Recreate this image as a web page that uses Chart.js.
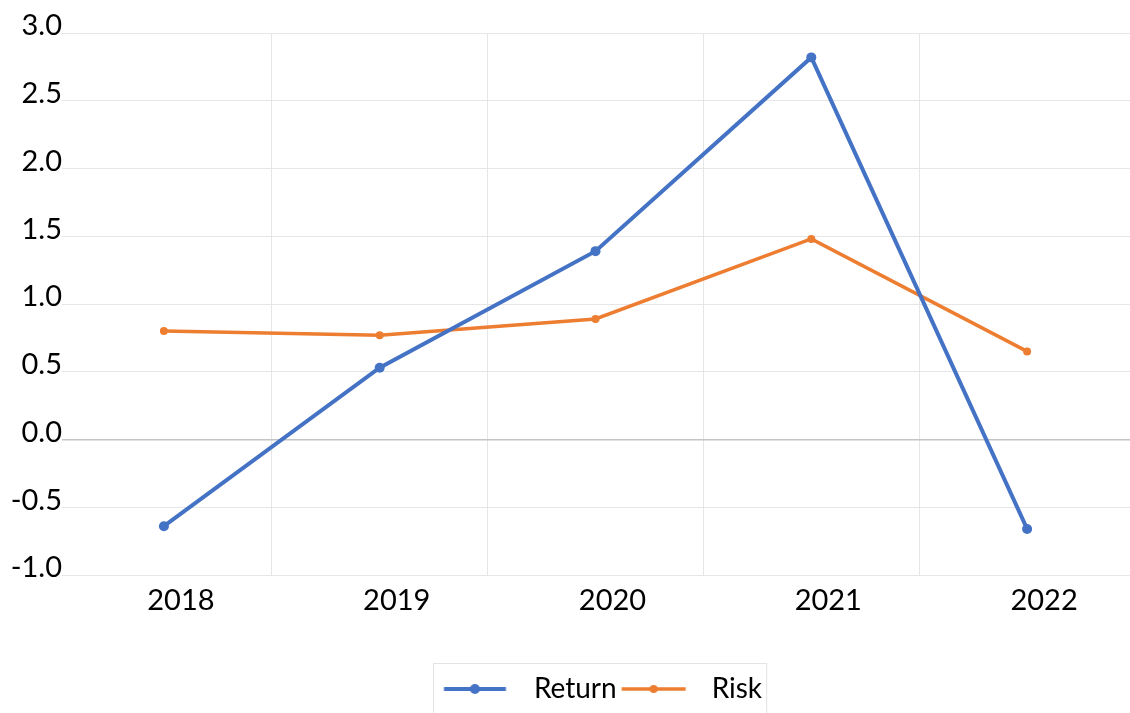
<!DOCTYPE html>
<html>
<head>
<meta charset="utf-8">
<script src="https://cdn.jsdelivr.net/npm/chart.js@4/dist/chart.umd.min.js"></script>
<style>
  html, body { margin: 0; padding: 0; background: #ffffff; overflow: hidden; }
  #wrap { width: 1140px; height: 713px; }
</style>
</head>
<body>
<div id="wrap"><canvas id="c" width="1140" height="713"></canvas></div>
<script>
const categories = ['2018', '2019', '2020', '2021', '2022'];
const returnValues = [-0.64, 0.53, 1.39, 2.82, -0.66];
const riskValues = [0.80, 0.77, 0.89, 1.48, 0.65];
const seriesNames = ['Return', 'Risk'];
const yMin = -1.0, yMax = 3.0, yStep = 0.5;

const BLUE = '#4472C4';
const ORANGE = '#ED7D31';
const FONT = 'Lato, "Open Sans", sans-serif';

function makeLegendImg(color, r, lw, len) {
  const cv = document.createElement('canvas');
  cv.width = 144; cv.height = 14;
  const g = cv.getContext('2d');
  g.strokeStyle = color; g.lineWidth = lw; g.lineCap = 'butt';
  g.beginPath(); g.moveTo(31.5, 7); g.lineTo(31.5 + len, 7); g.stroke();
  g.fillStyle = color;
  g.beginPath(); g.arc(31.5 + len / 2, 7, r, 0, Math.PI * 2); g.fill();
  return cv;
}
const legendImgs = [makeLegendImg(BLUE, 5, 4, 62), makeLegendImg(ORANGE, 4, 3.5, 64)];

const layoutTweaks = {
  id: 'layoutTweaks',
  afterLayout(chart) {
    // plot (category) area starts a little left of where the y gridlines start
    const x = chart.scales.x;
    x.left = 56;
    x.width = x.right - x.left;
    x.configure();
    // legend sits slightly right of centre
    const lg = chart.legend;
    if (lg) { lg.left += 7; lg.right += 7; }
  },
  afterDraw(chart) {
    const lg = chart.legend;
    if (!lg || !lg.legendHitBoxes || !lg.legendHitBoxes.length) return;
    const hb = lg.legendHitBoxes;
    const left = hb[0].left - 16;
    const last = hb[hb.length - 1];
    const right = last.left + last.width + 4;
    const top = lg.top - 2;
    const ctx = chart.ctx;
    ctx.save();
    ctx.strokeStyle = '#e3e3e3';
    ctx.lineWidth = 1;
    ctx.strokeRect(Math.round(left) + 0.5, Math.round(top) + 0.5, right - left, 713 - top + 10);
    ctx.restore();
  }
};

new Chart(document.getElementById('c'), {
  type: 'line',
  data: {
    labels: categories,
    datasets: [
      {
        label: seriesNames[0], data: returnValues,
        borderColor: BLUE, backgroundColor: BLUE,
        borderWidth: 4, pointRadius: 5, pointHoverRadius: 5,
        pointBackgroundColor: BLUE, pointBorderWidth: 0, tension: 0
      },
      {
        label: seriesNames[1], data: riskValues,
        borderColor: ORANGE, backgroundColor: ORANGE,
        borderWidth: 3.5, pointRadius: 4, pointHoverRadius: 4,
        pointBackgroundColor: ORANGE, pointBorderWidth: 0, tension: 0
      }
    ]
  },
  options: {
    responsive: false,
    animation: false,
    layout: { padding: { top: 33, left: 0, right: 0, bottom: 0 } },
    plugins: {
      tooltip: { enabled: false },
      legend: {
        position: 'bottom',
        fullSize: false,
        labels: {
          usePointStyle: true,
          pointStyleWidth: 71,
          padding: 10,
          color: '#000000',
          font: { family: FONT, size: 28 },
          generateLabels(chart) {
            const items = Chart.defaults.plugins.legend.labels.generateLabels(chart);
            items.forEach((it, i) => { it.pointStyle = legendImgs[i]; });
            return items;
          }
        }
      }
    },
    scales: {
      x: {
        type: 'category',
        offset: true,
        border: { display: false },
        grid: {
          offset: true,
          drawTicks: false,
          lineWidth: 1,
          color: (ctx) => (ctx.index === 0 || ctx.index >= categories.length) ? 'rgba(0,0,0,0)' : '#e6e6e6'
        },
        ticks: {
          color: '#000000',
          font: { family: FONT, size: 29 },
          padding: 8,
          labelOffset: 17,
          maxRotation: 0
        },
        afterFit(scale) { scale.height = 90; }
      },
      y: {
        min: yMin, max: yMax,
        border: { display: false },
        grid: {
          drawTicks: false,
          lineWidth: (ctx) => (ctx.tick && ctx.tick.value === 0) ? 1.5 : 1,
          color: (ctx) => (ctx.tick && ctx.tick.value === 0) ? '#c4c4c4' : '#e6e6e6'
        },
        ticks: {
          stepSize: yStep,
          color: '#000000',
          font: { family: FONT, size: 29 },
          padding: 0,
          labelOffset: -7,
          callback: (v) => Number(v).toFixed(1)
        },
        afterFit(scale) { scale.width = 62; }
      }
    }
  },
  plugins: [layoutTweaks]
});
</script>
</body>
</html>
